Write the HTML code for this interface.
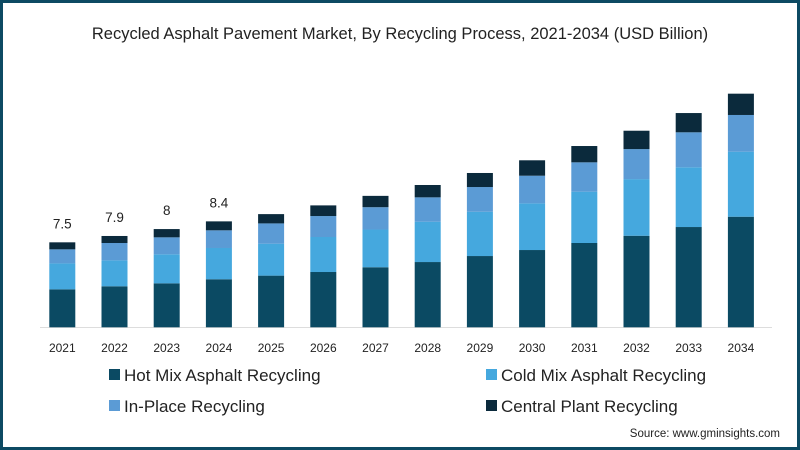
<!DOCTYPE html>
<html><head><meta charset="utf-8"><style>
body{margin:0;background:#fff}
#wrap{position:relative;width:800px;height:450px;box-sizing:border-box;border:3px solid #0d4a63;background:#fff;font-family:"Liberation Sans",sans-serif;overflow:hidden}
</style></head><body>
<div id="wrap">
<svg id="chart" width="794" height="444" viewBox="3 3 794 444" style="position:absolute;left:0;top:0">
<text x="400" y="39" text-anchor="middle" font-size="16.5" fill="#222">Recycled Asphalt Pavement Market, By Recycling Process, 2021-2034 (USD Billion)</text>
<line x1="40" y1="327.5" x2="772" y2="327.5" stroke="#ddd" stroke-width="1"/>
<g id="bars"></g>
<g id="legend">
<rect x="109" y="369" width="11" height="11" fill="#0b4a63"/>
<text x="124" y="381" font-size="17" fill="#222">Hot Mix Asphalt Recycling</text>
<rect x="486" y="369" width="11" height="11" fill="#45a8de"/>
<text x="501" y="381" font-size="17" fill="#222">Cold Mix Asphalt Recycling</text>
<rect x="109" y="400" width="11" height="11" fill="#5b9bd5"/>
<text x="124" y="412" font-size="17" fill="#222">In-Place Recycling</text>
<rect x="486" y="400" width="11" height="11" fill="#0b2a3c"/>
<text x="501" y="412" font-size="17" fill="#222">Central Plant Recycling</text>
</g>
<text x="780" y="437" text-anchor="end" font-size="11.5" fill="#222">Source: www.gminsights.com</text>
</svg>
</div>
<script>
const years=["2021","2022","2023","2024","2025","2026","2027","2028","2029","2030","2031","2032","2033","2034"];
const hotMix=[3.35,3.62,3.88,4.24,4.56,4.88,5.30,5.76,6.29,6.82,7.44,8.08,8.85,9.76];
const coldMix=[2.29,2.29,2.56,2.76,2.82,3.09,3.33,3.56,3.91,4.12,4.53,5.00,5.27,5.74];
const inPlace=[1.24,1.53,1.50,1.56,1.79,1.85,1.97,2.15,2.18,2.44,2.59,2.65,3.09,3.24];
const centralPlant=[0.62,0.62,0.73,0.79,0.82,0.94,1.00,1.09,1.24,1.36,1.44,1.62,1.70,1.88];
const totalLabels=["7.5","7.9","8","8.4"];
const NS="http://www.w3.org/2000/svg";
const base=327.3, pxPerUnit=11.33, x0=62.3, step=52.2, bw=26;
function y(v){return base-v*pxPerUnit;}
function xc(i){return x0+i*step;}
const series=[[hotMix,"#0b4a63","hot-mix"],[coldMix,"#45a8de","cold-mix"],[inPlace,"#5b9bd5","in-place"],[centralPlant,"#0b2a3c","central-plant"]];
const g=document.getElementById("bars");
years.forEach((yr,i)=>{
  let cum=0;
  series.forEach(([arr,col,nm])=>{
    const r=document.createElementNS(NS,"rect");
    r.setAttribute("x",xc(i)-bw/2);
    r.setAttribute("y",y(cum+arr[i]));
    r.setAttribute("width",bw);
    r.setAttribute("height",arr[i]*pxPerUnit);
    r.setAttribute("fill",col);
    
    
    g.appendChild(r);
    cum+=arr[i];
  });
  const t=document.createElementNS(NS,"text");
  t.setAttribute("x",xc(i));t.setAttribute("y",352);
  t.setAttribute("text-anchor","middle");t.setAttribute("font-size","12");t.setAttribute("fill","#222");
  t.textContent=yr;
  
  
  g.appendChild(t);
  if(i<totalLabels.length){
    const l=document.createElementNS(NS,"text");
    l.setAttribute("x",xc(i));l.setAttribute("y",y(cum)-14);
    l.setAttribute("text-anchor","middle");l.setAttribute("font-size","13.5");l.setAttribute("fill","#222");
    l.textContent=totalLabels[i];
    
    
    g.appendChild(l);
  }
});
</script>
</body></html>
